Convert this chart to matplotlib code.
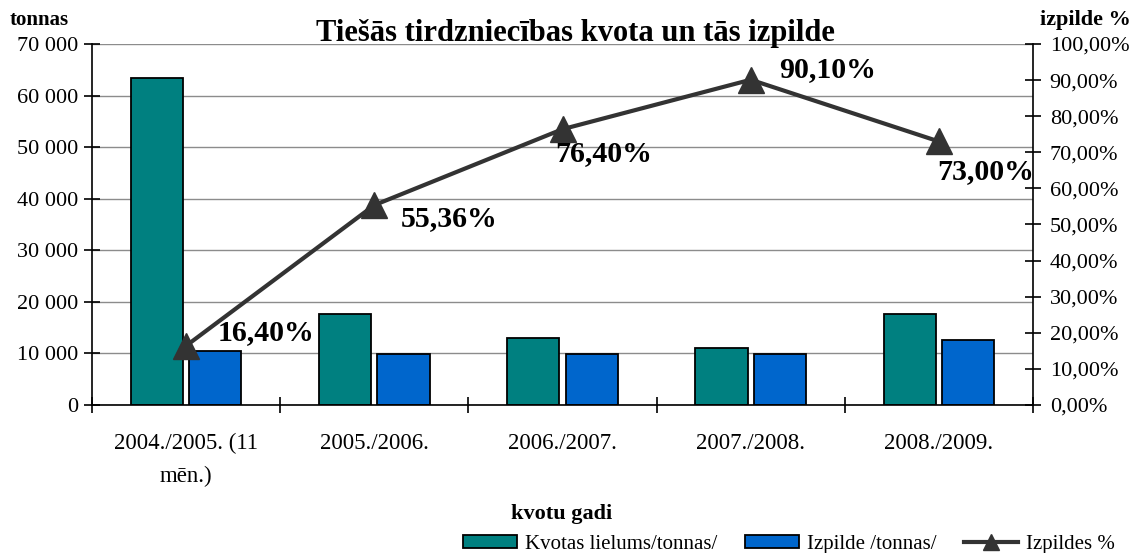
import matplotlib
matplotlib.use("Agg")
import matplotlib.pyplot as plt
from matplotlib.patches import Patch
from matplotlib.lines import Line2D
import numpy as np

# data
categories = ["2004./2005. (11\nmēn.)", "2005./2006.", "2006./2007.", "2007./2008.", "2008./2009."]
kvota_t = [63500, 17700, 13000, 11100, 17700]
izpilde_t = [10400, 9900, 9900, 9900, 12700]
izpilde_pct = [16.40, 55.36, 76.40, 90.10, 73.00]
pct_labels = ["16,40%", "55,36%", "76,40%", "90,10%", "73,00%"]
label_offsets = [(32, 13), (26, -13), (-7, -24), (28, 10), (-2, -30)]  # pixels

TEAL = "#008080"
BLUE = "#0066cc"
LINE = "#333333"
SERIF = "Liberation Serif"

plt.rcParams.update({"font.family": SERIF, "font.size": 16})

fig = plt.figure(figsize=(11.34, 5.53), dpi=100)
ax = fig.add_axes([92 / 1134, 1 - 405 / 553, (1033 - 92) / 1134, (405 - 44) / 553])

x = np.arange(len(categories))
w = 0.277
ax.bar(x - 0.155, kvota_t, w, color=TEAL, edgecolor="black", linewidth=1.3, zorder=2)
ax.bar(x + 0.155, izpilde_t, w, color=BLUE, edgecolor="black", linewidth=1.3, zorder=2)

ax.set_xlim(-0.5, 4.5)
ax.set_ylim(0, 70000)
ax.set_yticks(np.arange(0, 70001, 10000))
ax.set_yticklabels([f"{v:,}".replace(",", " ") for v in range(0, 70001, 10000)])
ax.yaxis.grid(True, color="#8c8c8c", linewidth=1)
ax.set_axisbelow(True)
ax.set_xticks(x)
ax.set_xticklabels(categories, linespacing=1.75, fontsize=16.5)
ax.set_xticks(np.arange(-0.5, 4.6, 1), minor=True)
ax.tick_params(axis="x", which="major", length=0, pad=20)
ax.tick_params(axis="x", which="minor", direction="inout", length=12, width=1.2)
ax.tick_params(axis="y", direction="inout", length=12, width=1.2, pad=4)
for s in ["top", "right"]:
    ax.spines[s].set_visible(False)
ax.spines["left"].set_linewidth(1.2)
ax.spines["bottom"].set_linewidth(1.2)

ax2 = ax.twinx()
ax2.plot(x, izpilde_pct, color=LINE, linewidth=3, marker="^", markersize=19,
         markerfacecolor=LINE, markeredgecolor=LINE, zorder=3)
ax2.set_ylim(0, 100)
ax2.set_yticks(np.arange(0, 101, 10))
ax2.set_yticklabels([f"{v:.2f}%".replace(".", ",") for v in np.arange(0, 101, 10)])
ax2.tick_params(axis="y", direction="inout", length=12, width=1.2, pad=6)
for s in ["top", "left", "bottom"]:
    ax2.spines[s].set_visible(False)
ax2.spines["right"].set_linewidth(1.2)

for xi, p, lab, off in zip(x, izpilde_pct, pct_labels, label_offsets):
    ax2.annotate(lab, (xi, p), xytext=off, textcoords="offset pixels",
                 ha="left", va="center", fontsize=21.5, fontweight="bold")

fig.text(575 / 1134, 1 - 33 / 553, "Tiešās tirdzniecības kvota un tās izpilde",
         ha="center", va="center", fontsize=22, fontweight="bold")
fig.text(10 / 1134, 1 - 20 / 553, "tonnas", ha="left", va="center",
         fontsize=15, fontweight="bold")
fig.text(1131 / 1134, 1 - 20 / 553, "izpilde %", ha="right", va="center",
         fontsize=16, fontweight="bold")
fig.text(562 / 1134, 1 - 514 / 553, "kvotu gadi", ha="center", va="center",
         fontsize=16, fontweight="bold")

handles = [
    Patch(facecolor=TEAL, edgecolor="black", linewidth=1.3),
    Patch(facecolor=BLUE, edgecolor="black", linewidth=1.3),
    Line2D([], [], color=LINE, linewidth=3, marker="^", markersize=11),
]
fig.legend(handles, ["Kvotas lielums/tonnas/", "Izpilde /tonnas/", "Izpildes %"],
           loc="lower right", bbox_to_anchor=(1.0, -0.035), ncol=3, frameon=False,
           fontsize=15, handlelength=2.6, handleheight=0.55, columnspacing=1.3,
           handletextpad=0.4)

fig.savefig("out.png", dpi=100)
